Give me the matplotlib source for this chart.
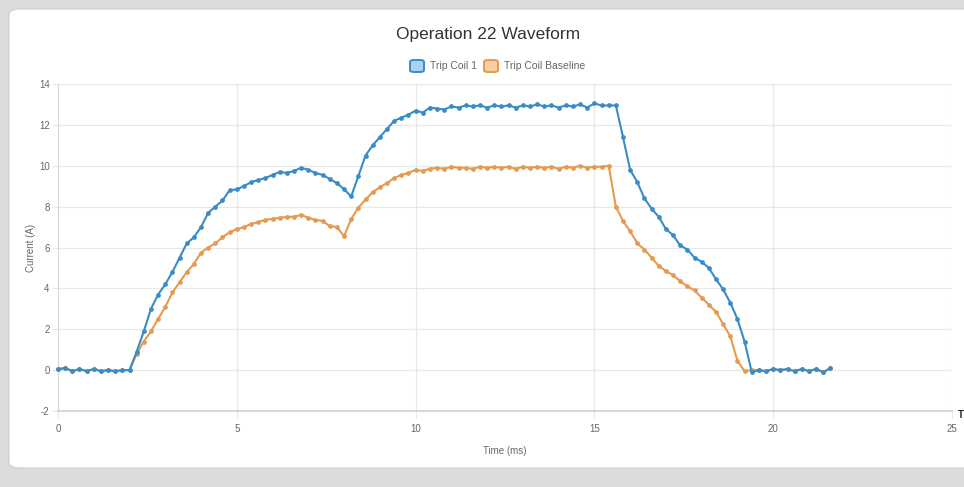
import matplotlib
matplotlib.use("Agg")
import matplotlib.pyplot as plt
from matplotlib.patches import FancyBboxPatch
import numpy as np

plt.rcParams["axes.unicode_minus"] = False

# ---- data ----
time_ms = [round(0.2 * i, 1) for i in range(109)]  # 0.0 .. 21.6 ms sampling grid

trip_coil_1 = [
    0.05, 0.10, -0.05, 0.05, -0.05, 0.05, -0.05, 0.00, -0.05, 0.00,   # 0.0-1.8
    0.00, 0.90, 1.90, 3.00, 3.70, 4.20, 4.80, 5.50, 6.20, 6.50,       # 2.0-3.8
    7.00, 7.70, 8.00, 8.30, 8.80, 8.85, 9.00, 9.20, 9.30, 9.40,       # 4.0-5.8
    9.55, 9.70, 9.65, 9.75, 9.90, 9.80, 9.65, 9.55, 9.35, 9.15,       # 6.0-7.8
    8.85, 8.50, 9.50, 10.50, 11.00, 11.40, 11.80, 12.20, 12.35, 12.50,  # 8.0-9.8
    12.70, 12.60, 12.85, 12.80, 12.75, 12.90, 12.85, 12.95, 12.90, 12.95,  # 10.0-11.8
    12.85, 12.95, 12.90, 12.95, 12.85, 12.95, 12.90, 13.00, 12.90, 12.95,  # 12.0-13.8
    12.85, 12.95, 12.90, 13.00, 12.85, 13.05, 12.95, 12.95, 12.95, 11.40,  # 14.0-15.8
    9.80, 9.20, 8.40, 7.90, 7.50, 6.90, 6.60, 6.10, 5.90, 5.50,       # 16.0-17.8
    5.30, 5.00, 4.45, 3.95, 3.30, 2.50, 1.40, -0.10, 0.00, -0.05,     # 18.0-19.8
    0.05, 0.00, 0.05, -0.05, 0.05, -0.05, 0.05, -0.10, 0.10,          # 20.0-21.6
]

trip_coil_baseline = [
    0.05, 0.10, -0.05, 0.05, -0.05, 0.05, -0.05, 0.00, -0.05, 0.00,   # 0.0-1.8
    0.00, 0.80, 1.40, 1.90, 2.50, 3.10, 3.80, 4.30, 4.80, 5.20,       # 2.0-3.8
    5.75, 6.00, 6.20, 6.50, 6.75, 6.90, 7.00, 7.15, 7.25, 7.35,       # 4.0-5.8
    7.40, 7.45, 7.50, 7.50, 7.60, 7.45, 7.35, 7.30, 7.05, 7.00,       # 6.0-7.8
    6.55, 7.40, 7.95, 8.35, 8.70, 8.95, 9.15, 9.40, 9.55, 9.65,       # 8.0-9.8
    9.80, 9.75, 9.85, 9.90, 9.85, 9.95, 9.90, 9.90, 9.85, 9.95,       # 10.0-11.8
    9.90, 9.95, 9.90, 9.95, 9.85, 9.95, 9.90, 9.95, 9.90, 9.95,       # 12.0-13.8
    9.85, 9.95, 9.90, 10.00, 9.90, 9.95, 9.95, 10.00, 8.00, 7.30,     # 14.0-15.8
    6.80, 6.20, 5.90, 5.50, 5.10, 4.85, 4.65, 4.35, 4.10, 3.90,       # 16.0-17.8
    3.55, 3.20, 2.85, 2.25, 1.65, 0.45, -0.05, 0.00, 0.00, -0.05,     # 18.0-19.8
    0.05, 0.00, 0.05, -0.05, 0.05, -0.05, 0.05, -0.10, 0.10,          # 20.0-21.6
]

x_ticks = [0, 5, 10, 15, 20, 25]
y_ticks = [-2, 0, 2, 4, 6, 8, 10, 12, 14]
title = "Operation 22 Waveform"
series_names = ["Trip Coil 1", "Trip Coil Baseline"]

# ---- style ----
W, H = 964, 487
fig = plt.figure(figsize=(W / 100, H / 100), dpi=100)
fig.patch.set_facecolor("#dcdcdc")

# white card
card = FancyBboxPatch((9 / W, 1 - 468 / H), 1.2, (468 - 9) / H,
                      boxstyle="round,pad=0,rounding_size=0.012",
                      transform=fig.transFigure, facecolor="white",
                      edgecolor="#cfcfcf", linewidth=0.8, zorder=-5)
fig.patches.append(card)

blue = "#3a8cc6"
orange = "#e59a4f"
grid_c = "#e8e8e8"
text_c = "#666666"
font = ["Liberation Sans Narrow", "Liberation Sans", "DejaVu Sans"]

ax = fig.add_axes([58 / W, 1 - 411 / H, (952 - 58) / W, (411 - 84) / H])
ax.set_zorder(2)
ax.set_facecolor("none")
ax.set_xlim(0, 25)
ax.set_ylim(-2, 14)
ax.set_xticks(x_ticks)
ax.set_yticks(y_ticks)
ax.grid(True, color=grid_c, linewidth=0.9)
for s in ["top", "right"]:
    ax.spines[s].set_visible(False)
ax.spines["left"].set_color("#d8d8d8")
ax.spines["bottom"].set_color("#cfcfcf")
ax.spines["bottom"].set_linewidth(1.2)
ax.tick_params(axis="x", length=5, color=grid_c, labelsize=7, labelcolor=text_c, pad=4)
ax.tick_params(axis="y", length=4, color=grid_c, labelsize=7, labelcolor=text_c, pad=2)
for lbl in ax.get_xticklabels() + ax.get_yticklabels():
    lbl.set_family(font)

ax.plot(time_ms, trip_coil_baseline, color=orange, linewidth=1.5, marker="o",
        markersize=2.4, markerfacecolor=orange, markeredgecolor=orange, zorder=3,
        clip_on=False)
ax.plot(time_ms, trip_coil_1, color=blue, linewidth=1.5, marker="o",
        markersize=2.4, markerfacecolor=blue, markeredgecolor=blue, zorder=4,
        clip_on=False)

ax.set_xlabel("Time (ms)", fontsize=7, color=text_c, family=font, labelpad=9)
ax.set_ylabel("Current (A)", fontsize=7, color=text_c, family=font, labelpad=2)

fig.text(488 / W, 1 - 35 / H, title, ha="center", va="center", fontsize=12.5,
         color="#333333", family=font)

# legend (Chart.js style boxes)
legend_items = [(410, series_names[0], blue, "#a9d3f0"),
                (484, series_names[1], orange, "#f8cfa3")]
for x0, name, ec, fc in legend_items:
    r = FancyBboxPatch((x0 / W, 1 - 72 / H), 14 / W, 12 / H,
                       boxstyle="round,pad=0,rounding_size=0.004",
                       transform=fig.transFigure, facecolor=fc, edgecolor=ec,
                       linewidth=1.4)
    fig.patches.append(r)
    fig.text((x0 + 20) / W, 1 - 66 / H, name, ha="left", va="center",
             fontsize=7.5, color=text_c, family=font)

fig.text(958 / W, 1 - 415 / H, "T", ha="left", va="center", fontsize=7,
         color="#222222", weight="bold", family=font)

fig.savefig("out.png", dpi=100, facecolor=fig.get_facecolor())
